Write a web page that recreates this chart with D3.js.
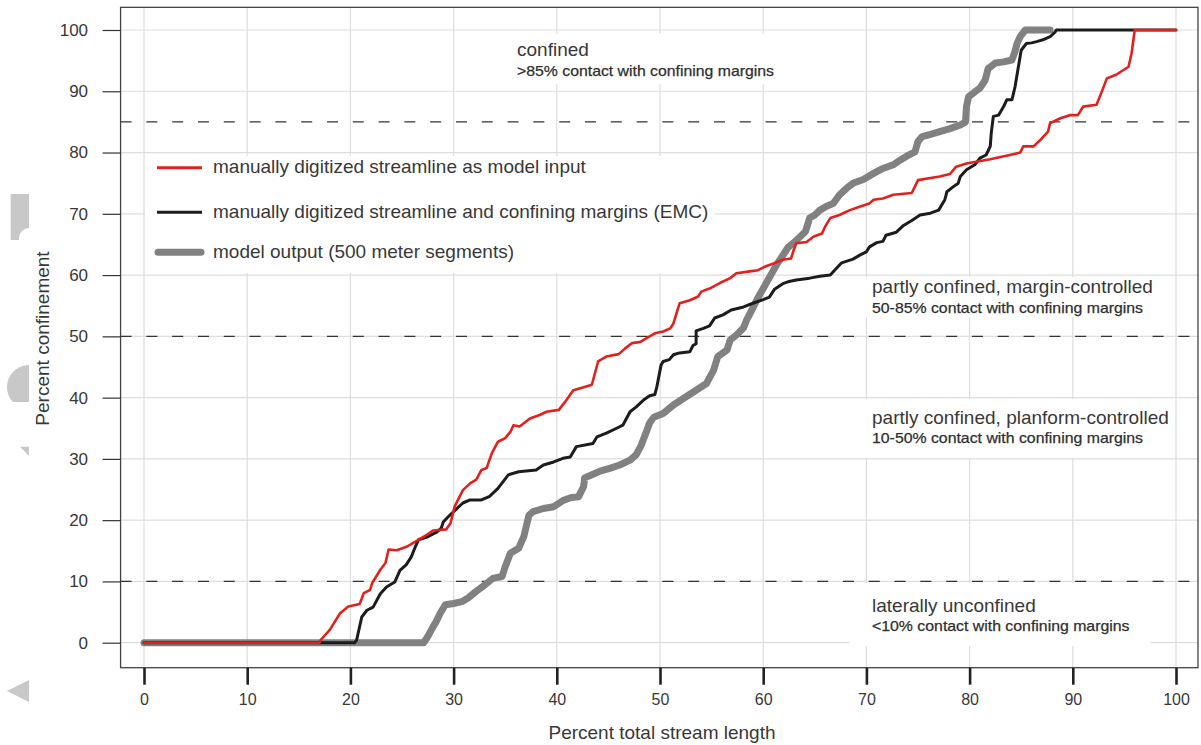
<!DOCTYPE html>
<html><head><meta charset="utf-8">
<script src="https://cdn.jsdelivr.net/npm/d3@7"></script>
<style>
html,body{margin:0;padding:0;background:#fff;}
svg{display:block;font-family:"Liberation Sans",Arial,Helvetica,sans-serif;}
</style></head><body>
<svg id="chart" width="1201" height="745"></svg>
<script>
// ---------------- data ----------------
const xTicks = [0,10,20,30,40,50,60,70,80,90,100];
const yTicks = [0,10,20,30,40,50,60,70,80,90,100];
const thresholds = [85, 50, 10];
const xTitle = "Percent total stream length";
const yTitle = "Percent confinement";
const seriesNames = [
  "manually digitized streamline as model input",
  "manually digitized streamline and confining margins (EMC)",
  "model output (500 meter segments)"
];
const classTitles = ["confined","partly confined, margin-controlled","partly confined, planform-controlled","laterally unconfined"];
const classSubs = [">85% contact with confining margins","50-85% contact with confining margins","10-50% contact with confining margins","<10% contact with confining margins"];

// red: manually digitized streamline as model input
const redX = [0,17.0,17.1,18.0,19.0,19.8,20.9,21.3,21.9,22.1,22.9,23.4,23.7,24.5,25.5,26.3,27.4,28.0,29.3,29.7,30.1,30.9,31.6,32.2,32.7,33.2,33.7,34.3,35.0,35.5,35.8,36.4,37.4,38.4,39.0,40.2,40.8,41.6,42.2,43.4,44.0,44.8,46.0,46.6,47.3,48.1,48.7,49.5,50.3,51.0,51.3,51.9,52.9,53.7,54.0,54.8,55.8,56.8,57.4,58.7,59.5,60.2,61.0,61.9,62.7,62.9,63.2,64.2,64.9,65.7,66.0,66.5,67.4,68.4,69.4,70.3,70.7,71.6,72.6,74.4,75.0,77.1,78.1,78.7,79.7,82.0,83.9,84.9,85.2,86.2,87.0,87.6,87.8,88.8,89.7,90.5,91.0,92.3,92.8,93.3,94.2,95.4,95.7,96.0,100];
const redY = [0,0,0.4,2.1,4.8,5.9,6.3,8.1,8.6,9.7,11.9,13.0,15.2,15.1,15.7,16.5,17.6,18.3,18.5,19.5,22.2,24.9,26.0,26.6,28.2,28.5,30.9,32.8,33.4,34.4,35.5,35.3,36.6,37.2,37.7,38.0,39.3,41.2,41.5,42.1,45.9,46.7,47.1,48.0,48.9,49.1,49.7,50.5,50.8,51.3,52.1,55.4,55.9,56.5,57.3,57.8,58.7,59.5,60.3,60.6,60.8,61.4,61.9,62.5,62.7,63.8,65.2,65.4,66.3,66.8,67.9,69.3,69.8,70.6,71.2,71.7,72.3,72.5,73.1,73.4,75.5,76.1,76.5,77.7,78.2,78.9,79.6,80.0,81.0,81.0,82.3,83.4,84.8,85.6,86.1,86.1,87.5,87.8,89.9,92.1,92.7,94.0,96.2,100,100];

// black: manually digitized streamline and confining margins (EMC)
const blackX = [0,20.4,20.6,21.1,21.6,22.2,22.9,23.5,24.3,24.8,25.4,25.9,26.3,26.6,27.5,28.4,28.8,29.0,29.5,30.0,30.9,31.6,32.7,33.5,34.3,35.3,36.3,38.0,38.7,39.7,40.6,41.3,41.9,43.5,43.9,44.8,45.8,46.4,47.1,47.7,48.4,49.0,49.5,49.7,50.1,50.3,50.9,51.3,51.9,52.9,53.2,53.5,53.5,54.2,54.8,55.3,56.1,56.9,58.1,59.0,60.0,60.6,61.1,61.9,62.4,63.2,64.5,65.5,66.5,67.1,67.6,68.7,69.4,70.0,70.3,71.0,71.6,71.9,72.9,73.6,74.4,75.2,76.2,77.0,77.6,77.8,78.4,78.9,79.1,79.7,80.5,81.0,81.6,82.0,82.1,82.3,82.8,83.3,83.6,84.1,84.4,84.7,85.0,85.5,86.0,86.5,87.1,87.8,88.3,88.4,100];
const blackY = [0,0,0.4,4.2,5.3,5.8,8.0,9.1,9.9,11.8,12.7,14.0,15.7,16.8,17.3,18.1,18.7,19.7,20.6,21.4,22.8,23.3,23.3,23.9,25.2,27.4,27.9,28.2,29.0,29.5,30.1,30.3,32.0,32.5,33.6,34.2,35.0,35.5,37.7,38.5,39.6,40.3,40.5,41.8,45.3,45.9,46.2,47.0,47.3,47.5,48.5,48.8,50.9,51.3,51.7,53.0,53.5,54.3,54.8,55.4,56.0,56.4,57.7,58.6,58.9,59.2,59.5,59.8,60.0,61.1,62.0,62.6,63.3,63.8,64.6,65.3,65.5,66.5,67.0,68.1,68.9,69.8,70.1,70.6,72.3,73.6,74.4,75.0,76.1,77.2,78.0,79.1,79.6,81.0,83.2,85.9,86.1,87.5,88.6,88.6,90.7,93.7,96.7,97.8,97.9,98.1,98.4,98.9,99.7,100,100];

// grey: model output (500 meter segments)
const greyX = [0,27.1,27.5,28.0,28.3,28.7,29.2,30.0,30.8,31.4,32.2,33.0,33.8,34.7,35.0,35.5,36.3,36.8,37.3,37.7,38.7,39.7,40.6,41.4,42.1,42.6,42.7,43.4,44.2,45.2,46.1,47.1,47.7,48.2,48.7,49.0,49.4,50.3,51.3,52.3,53.5,54.5,55.2,55.6,56.5,56.8,57.4,58.1,58.4,58.9,59.4,60.0,60.6,61.3,61.9,62.4,62.9,63.6,64.1,64.5,65.0,65.5,66.1,66.8,67.4,68.1,68.7,69.7,70.7,71.6,72.6,73.3,73.9,74.7,75.0,75.4,76.3,77.1,78.1,79.1,79.6,79.7,79.9,80.5,81.0,81.5,81.8,82.5,83.3,84.1,84.4,84.6,84.9,85.4,87.8];
const greyY = [0,0,1.0,2.6,3.4,4.8,6.2,6.4,6.7,7.3,8.4,9.4,10.5,10.8,12.4,14.6,15.4,17.3,20.8,21.4,21.9,22.2,23.2,23.7,23.8,25.5,26.9,27.4,28.0,28.5,29.0,29.8,30.7,32.3,34.5,35.9,36.8,37.4,38.8,39.9,41.2,42.3,44.5,46.7,47.8,49.4,50.2,51.4,52.7,54.3,56.0,57.8,59.6,61.7,63.2,64.5,65.2,66.3,67.1,69.3,69.8,70.6,71.2,71.7,73.1,74.2,75.0,75.6,76.6,77.4,78.0,78.8,79.4,80.1,81.8,82.6,83.0,83.4,83.9,84.5,85.0,87.5,89.1,89.9,90.5,91.8,93.7,94.6,94.8,95.1,96.5,97.8,98.9,100,100];

// ---------------- layout ----------------
const svg = d3.select("#chart");
const x = d3.scaleLinear().domain([0,100]).range([144,1176]);
const y = d3.scaleLinear().domain([0,100]).range([642.7,30]);
const frame = {l: x(-2.27), r: x(102.13), t: y(103.7), b: y(-4.08)};
const textCol = "#383838";

// artifacts at far left (cropped shapes from the neighbouring figure)
const art = svg.append("g").attr("fill","#c8c8c8");
art.append("path").attr("d","M10.7,194 H29 V228 A10,10 0 0 0 19,238 V240 H10.7 Z");
art.append("path").attr("d","M29,365 A22,22 0 0 0 7,387 A22,22 0 0 0 12.9,402 H29 Z");
art.append("path").attr("d","M20,446.7 H29 V456 Z");
art.append("path").attr("d","M7,691 L29,680 V702 Z");

// grid
const grid = svg.append("g").attr("stroke","#dedede").attr("stroke-width",1.2);
grid.selectAll(".gv").data(xTicks).join("line")
  .attr("x1",d=>x(d)).attr("x2",d=>x(d)).attr("y1",frame.t).attr("y2",frame.b);
grid.selectAll(".gh").data(yTicks).join("line")
  .attr("x1",frame.l).attr("x2",frame.r).attr("y1",d=>y(d)).attr("y2",d=>y(d));

// white backgrounds behind annotations
const boxes = [[505,34,790,84],[145,156,715,273],[858,277,1165,317],[858,399,1172,458],[850,583,1150,646]];
svg.append("g").selectAll("rect").data(boxes).join("rect")
  .attr("x",d=>d[0]).attr("y",d=>d[1]).attr("width",d=>d[2]-d[0]).attr("height",d=>d[3]-d[1])
  .attr("fill","#fff");

// threshold dashed lines
svg.append("g").selectAll("line").data(thresholds).join("line")
  .attr("x1",frame.l).attr("x2",frame.r).attr("y1",d=>y(d)).attr("y2",d=>y(d))
  .attr("stroke","#333").attr("stroke-width",1.3).attr("stroke-dasharray","11,14.8");

// curves
const line = d3.line().x(d=>x(d[0])).y(d=>y(d[1]));
const series = [
  {xs: greyX, ys: greyY, color:"#818181", w:7},
  {xs: blackX, ys: blackY, color:"#1c1c1c", w:3},
  {xs: redX, ys: redY, color:"#e4201c", w:2.6}
];
series.forEach(s=>{
  svg.append("path").datum(d3.zip(s.xs, s.ys)).attr("d", line)
    .attr("fill","none").attr("stroke", s.color).attr("stroke-width", s.w)
    .attr("stroke-linejoin","round").attr("stroke-linecap","round");
});

// frame
svg.append("rect").attr("x",frame.l).attr("y",frame.t)
  .attr("width",frame.r-frame.l).attr("height",frame.b-frame.t)
  .attr("fill","none").attr("stroke","#444").attr("stroke-width",1.3);

// y axis
const ya = svg.append("g").attr("transform",`translate(${frame.l},0)`)
  .call(d3.axisLeft(y).tickValues(yTicks).tickSize(18).tickPadding(14.5));
ya.select(".domain").remove();
ya.selectAll(".tick line").attr("stroke","#333").attr("stroke-width",1.2);
ya.selectAll(".tick text").attr("fill",textCol).style("font-size","17px").style("font-family",'"Liberation Sans",Arial,sans-serif');

// x axis
const xa = svg.append("g").attr("transform",`translate(0,${frame.b})`)
  .call(d3.axisBottom(x).tickValues(xTicks).tickSize(17).tickPadding(9));
xa.select(".domain").remove();
xa.selectAll(".tick line").attr("stroke","#222").attr("stroke-width",2.6);
xa.selectAll(".tick text").attr("fill",textCol).style("font-size","16px").style("font-family",'"Liberation Sans",Arial,sans-serif');

// axis titles
svg.append("text").attr("x",662).attr("y",739).attr("text-anchor","middle")
  .attr("fill",textCol).style("font-size","19px").text(xTitle);
svg.append("text").attr("transform","translate(49,338.5) rotate(-90)").attr("text-anchor","middle")
  .attr("fill",textCol).style("font-size","19px").text(yTitle);

// legend
const legY = [167.7, 212.3, 252.3];
const lg = svg.append("g");
series.slice().reverse().forEach((s,i)=>{
  const capInset = s.w > 5 ? 1 : 0;
  lg.append("line").attr("x1",157+capInset).attr("x2",202-capInset).attr("y1",legY[i]).attr("y2",legY[i])
    .attr("stroke",s.color).attr("stroke-width",s.w > 5 ? s.w : 3).attr("stroke-linecap", s.w>5?"round":"butt");
  lg.append("text").attr("x",213).attr("y",legY[i]+5.5).attr("fill",textCol)
    .style("font-size","19px").text(seriesNames[i]);
});

// class annotations
const labPos = [[517,56,76],[872,293.3,312.7],[872,424,443.3],[872,612.3,630.7]];
const subWidths = [257, 271, 271, 257.5];
const an = svg.append("g");
classTitles.forEach((t,i)=>{
  an.append("text").attr("x",labPos[i][0]).attr("y",labPos[i][1]).attr("fill",textCol)
    .style("font-size","19px").text(t);
  an.append("text").attr("x",labPos[i][0]).attr("y",labPos[i][2]).attr("fill","#2e2e2e")
    .attr("textLength",subWidths[i]).attr("lengthAdjust","spacingAndGlyphs")
    .style("font-size","15px").style("stroke","#2e2e2e").style("stroke-width","0.25px").text(classSubs[i]);
});
</script>
</body></html>
